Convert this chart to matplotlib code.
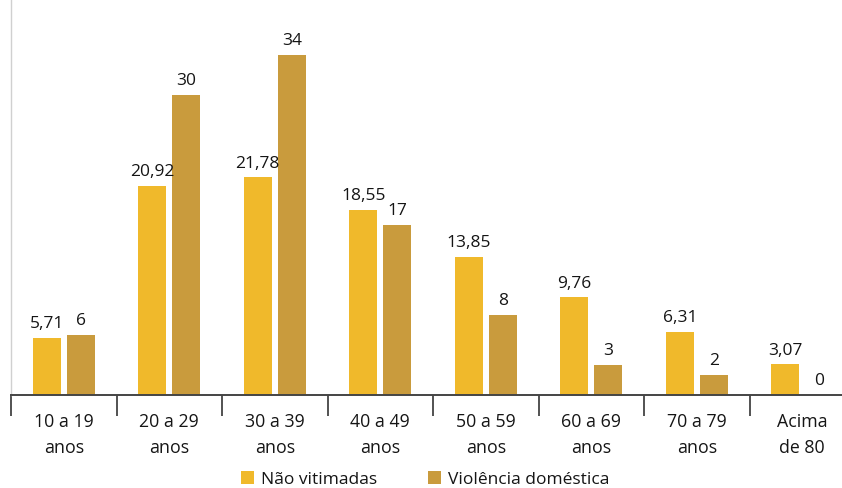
import numpy as np
import matplotlib.pyplot as plt
from matplotlib.ticker import FixedLocator

# data
faixas = ["10 a 19\nanos", "20 a 29\nanos", "30 a 39\nanos", "40 a 49\nanos",
          "50 a 59\nanos", "60 a 69\nanos", "70 a 79\nanos", "Acima\nde 80"]
nao_vitimadas = [5.71, 20.92, 21.78, 18.55, 13.85, 9.76, 6.31, 3.07]
violencia = [6, 30, 34, 17, 8, 3, 2, 0]
rot_nao = ["5,71", "20,92", "21,78", "18,55", "13,85", "9,76", "6,31", "3,07"]
rot_vio = ["6", "30", "34", "17", "8", "3", "2", "0"]

cor_nao = "#F0B92B"
cor_vio = "#C99B3D"

plt.rcParams["font.family"] = ["Open Sans", "DejaVu Sans"]

fig = plt.figure(figsize=(8.42, 4.88), dpi=100)
W, H = 842, 488
left, right, base, top = 11, 842, 395, 0
ax = fig.add_axes([left / W, (H - base) / H, (right - left) / W, (base - top) / H])

x = np.arange(len(faixas))
w = 0.265
off = 0.161
ax.bar(x - off, nao_vitimadas, w, color=cor_nao, label="Não vitimadas")
ax.bar(x + off, violencia, w, color=cor_vio, label="Violência doméstica")

for i in range(len(faixas)):
    ax.annotate(rot_nao[i], (x[i] - off, nao_vitimadas[i]), xytext=(0, 4),
                textcoords="offset points", ha="center", va="bottom", fontsize=12.5, color="#151515")
    ax.annotate(rot_vio[i], (x[i] + off, violencia[i]), xytext=(0, 4),
                textcoords="offset points", ha="center", va="bottom", fontsize=12.5, color="#151515")

ax.set_xlim(-0.5, -0.5 + (right - left) / 105.5)
ax.set_ylim(0, 39.5)

ax.set_xticks(x)
ax.set_xticklabels(faixas, fontsize=12.8, color="#151515", linespacing=1.55)
ax.tick_params(axis="x", which="major", length=0, pad=13)
ax.xaxis.set_minor_locator(FixedLocator(np.arange(len(faixas)) - 0.5))
ax.tick_params(axis="x", which="minor", length=15, width=1.3, color="#444444")
ax.set_yticks([])

for s in ["top", "right"]:
    ax.spines[s].set_visible(False)
ax.spines["bottom"].set_color("#444444")
ax.spines["bottom"].set_linewidth(1.4)
ax.spines["left"].set_color("#d0d0d0")
ax.spines["left"].set_linewidth(1.0)

fig.legend(loc="center", bbox_to_anchor=(0.505, 0.018), ncol=2, frameon=False,
           fontsize=12.5, handlelength=0.78, handleheight=0.78, handletextpad=0.4,
           columnspacing=2.9, borderaxespad=0, labelcolor="#151515")

fig.savefig("out.png", dpi=100)
